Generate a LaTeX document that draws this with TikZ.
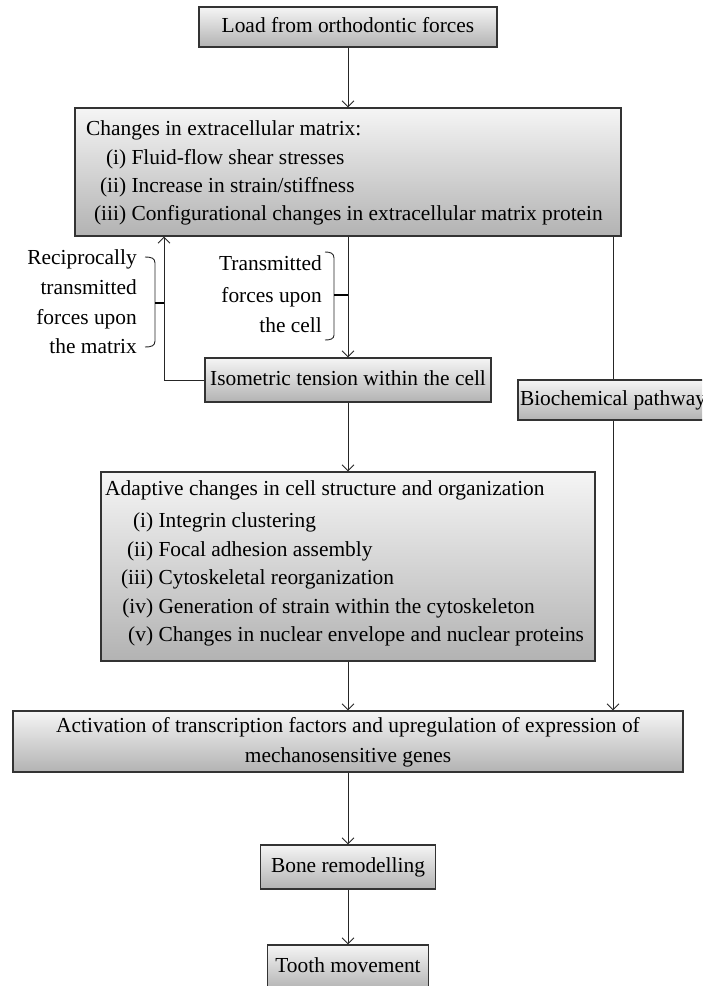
\documentclass[tikz,border=0pt]{standalone}
\usepackage{fontspec}
\setmainfont{Liberation Serif}
\usetikzlibrary{arrows.meta}
\newcommand\fsz{\fontsize{21.4pt}{29pt}\selectfont}
\newcommand\nb[2]{\makebox[#1pt][r]{#2}}
\begin{document}
\begin{tikzpicture}[x=1pt,y=-1pt,
  box/.style={draw=black!80, line width=1.2pt, top color=black!4, bottom color=black!30,
              inner sep=0pt, font=\fsz, text height=14pt, text depth=4pt},
  txt/.style={inner sep=0pt, font=\fsz},
  conn/.style={draw=black!85, line width=0.9pt},
  arr/.style={conn, -{Straight Barb[length=6pt,width=12pt,line width=0.9pt]}},
  stub/.style={draw=black, line width=1.8pt}]
\useasboundingbox (0,0) rectangle (702,986);
\clip (0,0) rectangle (702,986);
\fill[white] (0,0) rectangle (702,986);

% boxes
\node[box, minimum width=298pt, minimum height=40pt] (load) at (348,27) {Load from orthodontic forces};
\node[box, minimum width=546pt, minimum height=128pt] (ecm) at (348,172) {};
\node[box, minimum width=286pt, minimum height=44pt] (iso) at (348,380) {Isometric tension within the cell};
\node[box, minimum width=190pt, minimum height=40pt] (bio) at (613,400) {Biochemical pathway};
\node[box, minimum width=494pt, minimum height=189pt] (adapt) at (348,566.5) {};
\node[box, minimum width=670pt, minimum height=61pt] (act) at (348,741.5) {};
\node[box, minimum width=175pt, minimum height=44pt] (bone) at (348,867) {Bone remodelling};
\node[box, minimum width=161pt, minimum height=45pt] (tooth) at (348,967.5) {Tooth movement};

% texts of ECM box
\node[txt, anchor=base west] (ecm0) at (86,135) {Changes in extracellular matrix:};
\node[txt, anchor=base west] (ecm1) at (88,164) {\nb{38}{(i)} Fluid-flow shear stresses};
\node[txt, anchor=base west] (ecm2) at (88,192) {\nb{38}{(ii)} Increase in strain/stiffness};
\node[txt, anchor=base west] (ecm3) at (88,220) {\nb{38}{(iii)} Configurational changes in extracellular matrix protein};

% texts of adaptive box
\node[txt, anchor=base west] (ad0) at (105,495) {Adaptive changes in cell structure and organization};
\node[txt, anchor=base west] (ad1) at (112,527) {\nb{41}{(i)} Integrin clustering};
\node[txt, anchor=base west] (ad2) at (112,556) {\nb{41}{(ii)} Focal adhesion assembly};
\node[txt, anchor=base west] (ad3) at (112,584) {\nb{41}{(iii)} Cytoskeletal reorganization};
\node[txt, anchor=base west] (ad4) at (112,613) {\nb{41}{(iv)} Generation of strain within the cytoskeleton};
\node[txt, anchor=base west] (ad5) at (112,641) {\nb{41}{(v)} Changes in nuclear envelope and nuclear proteins};

% texts of activation box
\node[txt, anchor=base] (act1) at (348,732) {Activation of transcription factors and upregulation of expression of};
\node[txt, anchor=base] (act2) at (348,762) {mechanosensitive genes};

% brace labels
\node[txt, anchor=base east] (rc1) at (137,264) {Reciprocally};
\node[txt, anchor=base east] (rc2) at (137,294) {transmitted};
\node[txt, anchor=base east] (rc3) at (137,324) {forces upon};
\node[txt, anchor=base east] (rc4) at (137,353) {the matrix};
\node[txt, anchor=base east] (tr1) at (322,270) {Transmitted};
\node[txt, anchor=base east] (tr2) at (322,302) {forces upon};
\node[txt, anchor=base east] (tr3) at (322,332) {the cell};

% connectors
\coordinate (fbx) at (164,0);
\draw[arr] (load.south) -- (ecm.north);
\draw[arr] (ecm.south) -- (iso.north);
\draw[arr] (iso.south) -- (adapt.north);
\draw[arr] (adapt.south) -- (act.north);
\draw[arr] (act.south) -- (bone.north);
\draw[arr] (bone.south) -- (tooth.north);
\draw[conn] (bio.north |- ecm.south) -- (bio.north);
\draw[arr] (bio.south) -- (bio.south |- act.north);
\draw[arr] (iso.west) -| (fbx |- ecm.south);

% braces
\draw[conn] (145,257) .. controls (151,257) and (155,258) .. (155,263) -- (155,341)
            .. controls (155,346) and (151,347) .. (145,347);
\draw[stub] (155,303) -- (164,303);
\draw[conn] (325,252) .. controls (330,252) and (334,253) .. (334,258) -- (334,335)
            .. controls (334,339) and (330,340) .. (325,340);
\draw[stub] (334,295) -- (348,295);
\end{tikzpicture}
\end{document}
